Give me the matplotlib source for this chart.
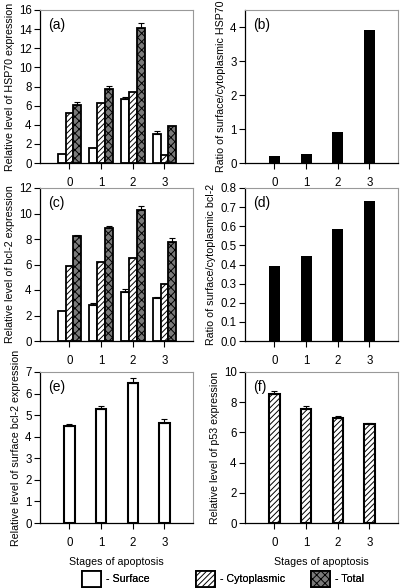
import matplotlib
matplotlib.use("Agg")
import matplotlib.pyplot as plt
from matplotlib.patches import Patch
import numpy as np

plt.rcParams['font.family'] = ['Liberation Sans', 'DejaVu Sans']
plt.rcParams['hatch.linewidth'] = 0.7

# стадии апоптоза
stages = [0, 1, 2, 3]
stage_labels = ['0', '1', '2', '3']

# (a) HSP70
hsp_surface = [0.98, 1.55, 6.65, 3.05]
hsp_surface_err = [0.0, 0.0, 0.2, 0.3]
hsp_cyto = [5.2, 6.25, 7.45, 0.85]
hsp_cyto_err = [0.0, 0.0, 0.0, 0.0]
hsp_total = [6.1, 7.7, 14.1, 3.85]
hsp_total_err = [0.3, 0.4, 0.5, 0.0]

# (b) отношение surface/cytoplasmic HSP70
hsp_ratio = [0.21, 0.27, 0.92, 3.9]

# (c) bcl-2
bcl_surface = [2.35, 2.8, 3.85, 3.35]
bcl_surface_err = [0.0, 0.2, 0.2, 0.08]
bcl_cyto = [5.9, 6.2, 6.5, 4.5]
bcl_cyto_err = [0.0, 0.0, 0.0, 0.0]
bcl_total = [8.2, 8.9, 10.3, 7.8]
bcl_total_err = [0.15, 0.15, 0.25, 0.3]

# (d) отношение surface/cytoplasmic bcl-2
bcl_ratio = [0.39, 0.445, 0.585, 0.73]

# (e) поверхностный bcl-2
surf_bcl = [4.5, 5.28, 6.48, 4.63]
surf_bcl_err = [0.1, 0.15, 0.22, 0.18]

# (f) p53
p53 = [8.55, 7.58, 6.97, 6.57]
p53_err = [0.18, 0.17, 0.1, 0.05]

styles = {
    'Surface': dict(facecolor='white', hatch=None),
    'Cytoplasmic': dict(facecolor='white', hatch='//////'),
    'Total': dict(facecolor='#7a7a7a', hatch='xxxx'),
}

FS = 8.3   # подписи делений
LFS = 7.7  # подписи осей и легенда
W, H = 400, 588
fig = plt.figure(figsize=(W / 100, H / 100), dpi=100)


def make_ax(left, top, right, bottom):
    return fig.add_axes([left / W, 1 - bottom / H, (right - left) / W, (bottom - top) / H])


def style_ax(ax, ylim, yticks, ylabel, letter, fmt=None):
    ax.set_xlim(-0.93, 3.9)
    ax.set_ylim(*ylim)
    ax.set_yticks(yticks)
    if fmt:
        ax.set_yticklabels([fmt % t for t in yticks])
    ax.set_xticks(stages)
    ax.set_xticklabels(stage_labels)
    for s in ['top', 'right']:
        ax.spines[s].set_color('#999999')
        ax.spines[s].set_linewidth(0.8)
    for s in ['left', 'bottom']:
        ax.spines[s].set_linewidth(0.9)
    ax.tick_params(axis='x', length=4, width=0.8, pad=6, labelsize=FS)
    ax.tick_params(axis='y', length=4, width=0.8, pad=2, labelsize=FS)
    ax.set_ylabel(ylabel, fontsize=LFS, labelpad=3)
    ax.text(0.055, 0.95, letter, transform=ax.transAxes, fontsize=10, va='top', ha='left')


def bar_with_err(ax, x, vals, errs, width, kind, lw=1.3):
    st = styles[kind]
    ax.bar(x, vals, width, facecolor=st['facecolor'], hatch=st['hatch'],
           edgecolor='black', linewidth=lw, zorder=2)
    errs = np.array(errs)
    mask = errs > 0
    if mask.any():
        ax.errorbar(np.array(x, dtype=float)[mask], np.array(vals)[mask],
                    yerr=[np.zeros(mask.sum()), errs[mask]],
                    fmt='none', ecolor='black', elinewidth=0.8, capsize=2.5,
                    capthick=0.8, zorder=3)


def grouped(ax, surf, surf_e, cyto, cyto_e, tot, tot_e):
    x = np.array(stages, dtype=float)
    w = 0.25
    bar_with_err(ax, x - w, surf, surf_e, w, 'Surface')
    bar_with_err(ax, x, cyto, cyto_e, w, 'Cytoplasmic')
    bar_with_err(ax, x + w, tot, tot_e, w, 'Total')


# (a)
ax = make_ax(40, 10, 193, 163)
grouped(ax, hsp_surface, hsp_surface_err, hsp_cyto, hsp_cyto_err, hsp_total, hsp_total_err)
style_ax(ax, (0, 16), range(0, 17, 2), 'Relative level of HSP70 expression', '(a)')

# (b)
ax = make_ax(245, 10, 398, 163)
ax.bar(stages, hsp_ratio, 0.34, color='black', zorder=2)
style_ax(ax, (0, 4.5), range(0, 5), 'Ratio of surface/cytoplasmic HSP70', '(b)')

# (c)
ax = make_ax(40, 188, 193, 341)
grouped(ax, bcl_surface, bcl_surface_err, bcl_cyto, bcl_cyto_err, bcl_total, bcl_total_err)
style_ax(ax, (0, 12), range(0, 13, 2), 'Relative level of bcl-2 expression', '(c)')

# (d)
ax = make_ax(245, 188, 398, 341)
ax.bar(stages, bcl_ratio, 0.34, color='black', zorder=2)
style_ax(ax, (0, 0.8), np.round(np.arange(0, 0.81, 0.1), 1),
         'Ratio of surface/cytoplasmic bcl-2', '(d)', fmt='%.1f')

# (e)
ax = make_ax(40, 372, 193, 523)
bar_with_err(ax, stages, surf_bcl, surf_bcl_err, 0.32, 'Surface', lw=1.5)
style_ax(ax, (0, 7), range(0, 8), 'Relative level of surface bcl-2 expression', '(e)')
ax.set_xlabel('Stages of apoptosis', fontsize=LFS, labelpad=6)

# (f)
ax = make_ax(245, 372, 398, 523)
bar_with_err(ax, stages, p53, p53_err, 0.32, 'Cytoplasmic', lw=1.5)
style_ax(ax, (0, 10), range(0, 11, 2), 'Relative level of p53 expression', '(f)')
ax.set_xlabel('Stages of apoptosis', fontsize=LFS, labelpad=6)

# общая легенда внизу: каждый элемент отдельно, на своей позиции
legend_x = {'Surface': 82, 'Cytoplasmic': 196, 'Total': 311}
for k in ['Surface', 'Cytoplasmic', 'Total']:
    h = Patch(facecolor=styles[k]['facecolor'], hatch=styles[k]['hatch'],
              edgecolor='black', linewidth=1.3, label='- ' + k)
    leg = fig.legend(handles=[h], loc='center left',
                     bbox_to_anchor=(legend_x[k] / W, 1 - 579 / H),
                     frameon=False, fontsize=LFS, handlelength=1.8, handleheight=1.8,
                     handletextpad=0.4, borderpad=0, borderaxespad=0)
    fig.add_artist(leg)

fig.savefig('out.png', dpi=100)
